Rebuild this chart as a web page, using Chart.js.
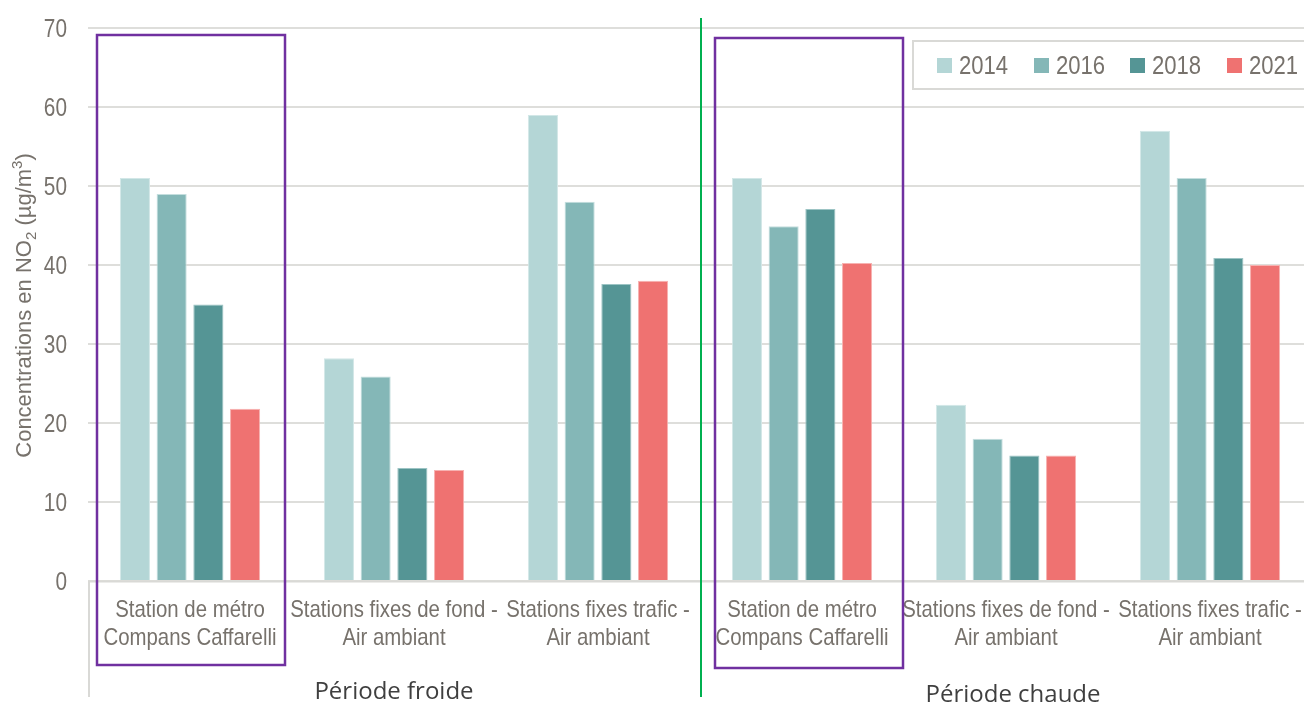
<!DOCTYPE html>
<html>
<head>
<meta charset="utf-8">
<script src="https://cdn.jsdelivr.net/npm/chart.js@4.4.1/dist/chart.umd.min.js"></script>
<style>
  html, body { margin: 0; padding: 0; background: #fff; overflow: hidden; }
  #wrap { position: relative; width: 1312px; height: 705px; }
</style>
</head>
<body>
<div id="wrap"><canvas id="c" width="1312" height="705"></canvas></div>
<script>
const categories = [
  ["Station de métro", "Compans Caffarelli"],
  ["Stations fixes de fond -", "Air ambiant"],
  ["Stations fixes trafic -", "Air ambiant"],
  ["Station de métro", "Compans Caffarelli"],
  ["Stations fixes de fond -", "Air ambiant"],
  ["Stations fixes trafic -", "Air ambiant"]
];
const periods = ["Période froide", "Période chaude"];
const seriesNames = ["2014", "2016", "2018", "2021"];
const values2014 = [51, 28.2, 59, 51, 22.3, 57];
const values2016 = [49, 25.9, 48, 44.9, 18, 51];
const values2018 = [35, 14.3, 37.6, 47.1, 15.9, 40.9];
const values2021 = [21.8, 14.05, 38, 40.25, 15.9, 40];
const yTicks = [0, 10, 20, 30, 40, 50, 60, 70];

const colors = ["#B4D6D6", "#84B7B7", "#559595", "#EF7271"];
const borders = ["#D2E7E7", "#C4DEDE", "#9CC4C4", "#F7B2B1"];
const sans = "'Liberation Sans', Arial, sans-serif";
const textGray = "#77726C";

const allValues = [values2014, values2016, values2018, values2021];

function drawScaled(ctx, str, x, y, font, sx, align) {
  ctx.save();
  ctx.font = font;
  ctx.textBaseline = "alphabetic";
  ctx.textAlign = "left";
  const w = ctx.measureText(str).width * sx;
  let x0 = x;
  if (align === "center") x0 = x - w / 2;
  else if (align === "right") x0 = x - w;
  ctx.translate(x0, y);
  ctx.scale(sx, 1);
  ctx.fillText(str, 0, 0);
  ctx.restore();
}

const overlay = {
  id: 'overlay',
  afterDraw(chart) {
    const ctx = chart.ctx;
    const x = chart.scales.x, y = chart.scales.y;
    const ca = chart.chartArea;
    const step = (ca.right - ca.left) / categories.length;
    ctx.save();
    // bottom axis line
    ctx.strokeStyle = "#D9D9D6";
    ctx.lineWidth = 2;
    ctx.beginPath();
    ctx.moveTo(ca.left, ca.bottom + 0.5);
    ctx.lineTo(ca.right, ca.bottom + 0.5);
    ctx.stroke();
    // left divider below axis
    ctx.beginPath();
    ctx.moveTo(ca.left + 1, ca.bottom);
    ctx.lineTo(ca.left + 1, 697);
    ctx.stroke();

    // y tick labels
    ctx.fillStyle = textGray;
    yTicks.forEach(v => {
      drawScaled(ctx, String(v), 67, y.getPixelForValue(v) + 9, "26px " + sans, 0.8, "right");
    });
    // x category labels
    categories.forEach((lines, i) => {
      const cx = x.getPixelForValue(i);
      lines.forEach((ln, j) => {
        drawScaled(ctx, ln, cx, 617 + j * 28, "24px " + sans, 0.85, "center");
      });
    });

    // green divider between periods
    const mid = ca.left + step * 3 + 1;
    ctx.strokeStyle = "#00B050";
    ctx.lineWidth = 2;
    ctx.beginPath();
    ctx.moveTo(mid, 18);
    ctx.lineTo(mid, 697);
    ctx.stroke();
    // purple highlight rectangles
    ctx.strokeStyle = "#7030A0";
    ctx.lineWidth = 2.5;
    const c0 = x.getPixelForValue(0), c3 = x.getPixelForValue(3);
    ctx.strokeRect(c0 - 93, 35, 188, 630);
    ctx.strokeRect(c3 - 87, 38, 188, 630);
    // period labels
    ctx.fillStyle = "#3F3F3F";
    ctx.font = "24px 'Open Sans', 'Noto Sans', sans-serif";
    ctx.textAlign = "center";
    ctx.textBaseline = "alphabetic";
    ctx.fillText(periods[0], x.getPixelForValue(1), 699);
    ctx.fillText(periods[1], x.getPixelForValue(4) + 7, 702);
    // y axis title
    ctx.save();
    ctx.translate(31, (ca.top + ca.bottom) / 2 + 1);
    ctx.rotate(-Math.PI / 2);
    ctx.fillStyle = textGray;
    ctx.textBaseline = "alphabetic";
    ctx.textAlign = "left";
    const big = "22px " + sans, small = "15px " + sans;
    const parts = [["Concentrations en NO", big, 0], ["2", small, 5], [" (µg/m", big, 0], ["3", small, -9], [")", big, 0]];
    let total = 0;
    parts.forEach(p => { ctx.font = p[1]; total += ctx.measureText(p[0]).width; });
    let px = -total / 2;
    parts.forEach(p => { ctx.font = p[1]; ctx.fillText(p[0], px, p[2]); px += ctx.measureText(p[0]).width; });
    ctx.restore();
    // legend
    ctx.strokeStyle = "#D9D9D6";
    ctx.lineWidth = 2;
    ctx.fillStyle = "#fff";
    ctx.fillRect(913, 41, 420, 48);
    ctx.strokeRect(913, 41, 420, 48);
    const lx = [937, 1034, 1130, 1227];
    chart.data.datasets.forEach((ds, i) => {
      ctx.fillStyle = ds.backgroundColor;
      ctx.fillRect(lx[i], 58, 15, 15);
      ctx.fillStyle = textGray;
      drawScaled(ctx, ds.label, lx[i] + 22, 74, "26px " + sans, 0.85, "left");
    });
    ctx.restore();
  }
};

new Chart(document.getElementById('c'), {
  type: 'bar',
  data: {
    labels: categories,
    datasets: seriesNames.map((n, i) => ({
      label: n,
      data: allValues[i],
      backgroundColor: colors[i],
      borderColor: borders[i],
      borderWidth: 1,
      categoryPercentage: 0.72,
      barPercentage: 0.82
    }))
  },
  options: {
    responsive: false,
    animation: false,
    devicePixelRatio: 1,
    layout: { padding: { top: 28, right: 0, bottom: 0, left: 0 } },
    plugins: { legend: { display: false }, tooltip: { enabled: false } },
    scales: {
      x: {
        grid: { display: false, drawTicks: false },
        border: { display: false },
        ticks: { display: false },
        afterFit(s) { s.height = 124; }
      },
      y: {
        min: 0, max: 70,
        afterBuildTicks(s) { s.ticks = yTicks.map(v => ({ value: v })); },
        grid: { color: "#DEDEDB", lineWidth: 2, drawTicks: false },
        border: { display: false },
        ticks: { display: false },
        afterFit(s) { s.width = 88; }
      }
    }
  },
  plugins: [overlay]
});
</script>
</body>
</html>
